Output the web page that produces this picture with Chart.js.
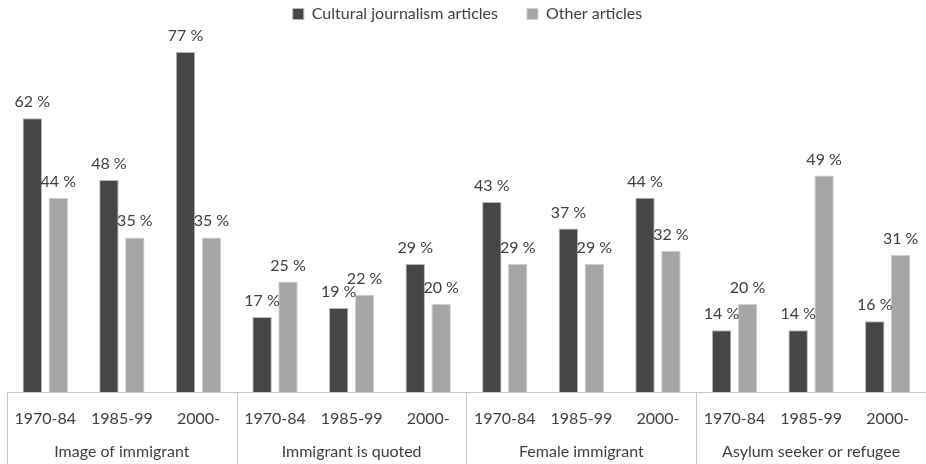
<!DOCTYPE html>
<html>
<head>
<meta charset="utf-8">
<script src="https://cdn.jsdelivr.net/npm/chart.js@4/dist/chart.umd.min.js"></script>
<style>
  html, body { margin: 0; padding: 0; background: #ffffff; }
  #wrap { width: 926px; height: 464px; position: relative; }
</style>
</head>
<body>
<div id="wrap"><canvas id="chart" width="926" height="464"></canvas></div>
<script>
// Periods shown under each bar pair, and the topic groups they belong to
const periods = ['1970-84', '1985-99', '2000-'];
const groups = ['Image of immigrant', 'Immigrant is quoted', 'Female immigrant', 'Asylum seeker or refugee'];

// Share of articles (%) per topic and period
const culturalValues = [62, 48, 77, 17, 19, 29, 43, 37, 44, 14, 14, 16];
const otherValues    = [44, 35, 35, 25, 22, 20, 29, 29, 32, 20, 49, 31];

const seriesNames = ['Cultural journalism articles', 'Other articles'];

const categories = [];
groups.forEach(() => periods.forEach(p => categories.push(p)));

const FONT = 'Lato, "Open Sans", sans-serif';
const TEXT = '#404040';
const LINE = '#c6c6c6';

// Value labels above each bar
const valueLabels = {
  id: 'valueLabels',
  afterDatasetsDraw(chart) {
    const ctx = chart.ctx;
    ctx.save();
    ctx.font = '16px ' + FONT;
    ctx.fillStyle = TEXT;
    ctx.textAlign = 'center';
    ctx.textBaseline = 'alphabetic';
    chart.data.datasets.forEach((ds, di) => {
      const meta = chart.getDatasetMeta(di);
      meta.data.forEach((bar, i) => {
        ctx.fillText(ds.data[i] + ' %', bar.x, bar.y - 11);
      });
    });
    ctx.restore();
  }
};

// Two-level category axis: period labels, group labels and the boxes around them
const groupedAxis = {
  id: 'groupedAxis',
  afterDraw(chart) {
    const ctx = chart.ctx;
    const x = chart.scales.x;
    const area = chart.chartArea;
    const bottom = chart.height;
    const n = categories.length;
    const step = (x.getPixelForValue(n - 1) - x.getPixelForValue(0)) / (n - 1);
    const edge = i => x.getPixelForValue(i) - step / 2;

    ctx.save();
    ctx.strokeStyle = LINE;
    ctx.lineWidth = 1;
    ctx.beginPath();
    ctx.moveTo(area.left, area.bottom + 0.5);
    ctx.lineTo(area.right + 4, area.bottom + 0.5);
    for (let g = 0; g <= groups.length; g++) {
      const px = Math.round(edge(g * periods.length)) + 0.5;
      ctx.moveTo(px, area.bottom);
      ctx.lineTo(px, bottom);
    }
    ctx.stroke();

    ctx.fillStyle = TEXT;
    ctx.textAlign = 'center';
    ctx.textBaseline = 'middle';
    ctx.font = '16px ' + FONT;
    categories.forEach((c, i) => {
      ctx.fillText(c, x.getPixelForValue(i), area.bottom + 27);
    });
    groups.forEach((g, gi) => {
      const mid = (edge(gi * periods.length) + edge((gi + 1) * periods.length)) / 2;
      ctx.fillText(g, mid, area.bottom + 60);
    });
    ctx.restore();
  }
};

new Chart(document.getElementById('chart'), {
  type: 'bar',
  data: {
    labels: categories,
    datasets: [
      {
        label: seriesNames[0],
        data: culturalValues,
        backgroundColor: '#464646',
        borderColor: '#b8b8b8',
        borderWidth: 1,
        categoryPercentage: 0.677,
        barPercentage: 0.75
      },
      {
        label: seriesNames[1],
        data: otherValues,
        backgroundColor: '#a5a5a5',
        borderColor: '#d0d0d0',
        borderWidth: 1,
        categoryPercentage: 0.677,
        barPercentage: 0.75
      }
    ]
  },
  options: {
    responsive: false,
    animation: false,
    devicePixelRatio: 1,
    layout: { padding: { left: 7, right: -2, top: -23, bottom: 72 } },
    plugins: {
      legend: {
        display: true,
        position: 'top',
        labels: {
          boxWidth: 11,
          boxHeight: 11,
          color: TEXT,
          font: { family: FONT, size: 16 },
          padding: 29
        }
      },
      tooltip: { enabled: false }
    },
    scales: {
      x: { display: false },
      y: { display: false, min: 0, max: 81.5 }
    }
  },
  plugins: [valueLabels, groupedAxis]
});
</script>
</body>
</html>
